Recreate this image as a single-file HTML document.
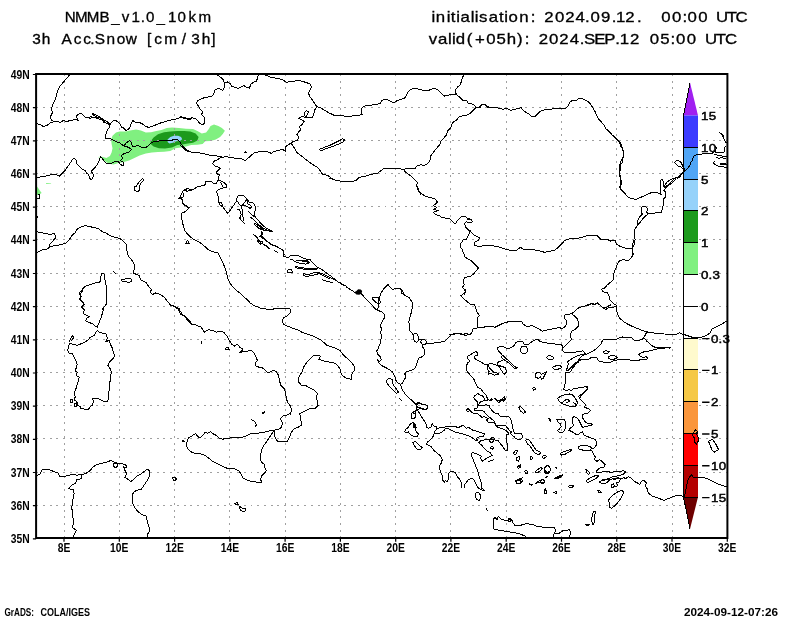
<!DOCTYPE html>
<html><head><meta charset="utf-8"><title>NMMB 3h Acc.Snow</title>
<style>html,body{margin:0;padding:0;background:#fff}body{width:800px;height:618px;overflow:hidden}svg{display:block;will-change:transform}text{font-family:"Liberation Sans",sans-serif;fill:#000}.t{font-size:14px;stroke:#000;stroke-width:.3px}.ax{font-size:12px;font-weight:bold}.cb{font-size:11.3px;stroke:#000;stroke-width:.45px}.ft{font-size:10.4px;font-weight:bold}.c{fill:none;stroke:#000;stroke-width:1;stroke-linejoin:round;stroke-linecap:round}.g{stroke:#a0a0a0;stroke-width:1;stroke-dasharray:2 4.7;fill:none}</style></head><body>
<svg width="800" height="618" viewBox="0 0 800 618">
<rect width="800" height="618" fill="#fff"/>
<defs><clipPath id="cp"><rect x="36.1" y="74.0" width="691.3" height="464.0"/></clipPath></defs>
<g clip-path="url(#cp)"><path d="M116,132.5 119.5,131.6 125.6,131.6 130,130.4 136.1,129.4 140.9,130.4 145.8,132.5 151,132.2 156.3,131.1 161.5,129.9 166.8,128.1 172,127.6 179,128.1 186,128.7 193,129 197.4,131.1 201.8,133.4 206.1,132.5 208.8,129 210.5,125.9 214,124.6 218.4,125.9 221.9,128.1 224.9,130.8 222.8,133.9 220.1,136.9 215.8,139.5 210.5,140.9 205.3,141.3 202.6,143.9 197.4,144.8 191.3,145.1 186,146.5 180.8,147.4 175.5,148.3 170.3,150.9 164.1,151.8 158,152.1 151.9,152.6 145.8,153.5 139.6,155.6 134.4,157.9 129.1,160.5 123.9,161.9 118.6,163.1 113.4,164.4 109,163.7 104.6,160.9 101.1,157.9 97.6,157 102,156.7 106.4,157.9 109.9,156.1 111.6,152.6 112.5,148.3 111.6,143.9 111.1,139.5 112.5,135.7z" fill="#80f080"/><path d="M150.7,141.3 153.6,137.4 158,134.3 164.1,132.2 170.3,131.6 177.3,131.1 184.3,131.1 190.4,131.6 195.6,133.4 198.6,136.9 197.4,140.4 193,142.7 187.8,143.4 182.5,144.4 177.3,145.1 172,147.4 165,148.6 158.9,148.3 153.6,146.5 150.7,143.9z" fill="#1c9a1c"/><path d="M167.6,139.5 170.3,136.9 173.8,135.7 178.1,135.7 181.1,136.9 182.2,139.2 179.9,140.9 176.4,141.3 172.9,142.7 169.4,143.4 167.6,142.1z" fill="#96d2fa"/><path d="M46.1,183.1 51.1,183.5 51.1,184.1 46.1,183.9z" fill="#80f080"/><path d="M36,185 41.6,193 38.4,195 36,195z" fill="#80f080"/><path d="M354.2,292.3 356.4,290.9 358.2,289.3 360.7,289.6 362.2,291.1 361.4,293.7 359.2,294.7 356.4,294.4z" fill="#000000"/></g>
<path class="g" shape-rendering="crispEdges" d="M64.0 74.0V538.0M119.3 74.0V538.0M174.6 74.0V538.0M229.9 74.0V538.0M285.1 74.0V538.0M340.4 74.0V538.0M395.7 74.0V538.0M450.9 74.0V538.0M506.2 74.0V538.0M561.5 74.0V538.0M616.8 74.0V538.0M672.0 74.0V538.0M36.1 505.2H727.4M36.1 472.0H727.4M36.1 438.9H727.4M36.1 405.7H727.4M36.1 372.5H727.4M36.1 339.4H727.4M36.1 306.2H727.4M36.1 273.0H727.4M36.1 239.9H727.4M36.1 206.7H727.4M36.1 173.5H727.4M36.1 140.3H727.4M36.1 107.2H727.4"/>
<polygon points="683.5,115.5 690,82.6 698.0,115.5" fill="#a020f0"/>
<rect x="683.5" y="115.5" width="14.5" height="31.8" fill="#3c3cff"/>
<rect x="683.5" y="147.3" width="14.5" height="31.8" fill="#50a5f5"/>
<rect x="683.5" y="179.1" width="14.5" height="31.8" fill="#96d2fa"/>
<rect x="683.5" y="210.9" width="14.5" height="31.8" fill="#1c9a1c"/>
<rect x="683.5" y="242.7" width="14.5" height="31.8" fill="#80f080"/>
<rect x="683.5" y="274.5" width="14.5" height="31.8" fill="#ffffff"/>
<rect x="683.5" y="306.3" width="14.5" height="31.8" fill="#ffffff"/>
<rect x="683.5" y="338.1" width="14.5" height="31.8" fill="#fffacd"/>
<rect x="683.5" y="369.9" width="14.5" height="31.8" fill="#f5c846"/>
<rect x="683.5" y="401.7" width="14.5" height="31.8" fill="#fa963c"/>
<rect x="683.5" y="433.5" width="14.5" height="31.8" fill="#ff0000"/>
<rect x="683.5" y="465.3" width="14.5" height="31.8" fill="#b40000"/>
<polygon points="683.5,497.1 690,529 698.0,497.1" fill="#6e0000"/>
<path d="M690 82.6L683.5 115.5V497.1L690 529M683.5 147.3H698.0M683.5 179.1H698.0M683.5 210.9H698.0M683.5 242.7H698.0M683.5 274.5H698.0M683.5 306.3H698.0M683.5 338.1H698.0M683.5 369.9H698.0M683.5 401.7H698.0M683.5 433.5H698.0M683.5 465.3H698.0M683.5 497.1H698.0" stroke="#000" stroke-width="1" fill="none" shape-rendering="crispEdges"/>
<text class="cb" transform="translate(0,120.0) scale(1.18,1)" text-anchor="middle" x="597.2 603.7">15</text>
<text class="cb" transform="translate(0,151.8) scale(1.18,1)" text-anchor="middle" x="597.2 603.7">10</text>
<text class="cb" transform="translate(0,183.6) scale(1.18,1)" text-anchor="middle" x="597.2">5</text>
<text class="cb" transform="translate(0,215.4) scale(1.18,1)" text-anchor="middle" x="597.2">2</text>
<text class="cb" transform="translate(0,247.2) scale(1.18,1)" text-anchor="middle" x="597.2">1</text>
<text class="cb" transform="translate(0,279.0) scale(1.18,1)" text-anchor="middle" x="597.2 602.1 606.9">0.3</text>
<text class="cb" transform="translate(0,310.8) scale(1.18,1)" text-anchor="middle" x="597.2">0</text>
<text class="cb" transform="translate(0,342.6) scale(1.18,1)" text-anchor="middle" x="605.6 610.5 615.4">0.3</text>
<text class="cb" transform="translate(0,374.4) scale(1.18,1)" text-anchor="middle" x="605.6">1</text>
<text class="cb" transform="translate(0,406.2) scale(1.18,1)" text-anchor="middle" x="605.6">2</text>
<text class="cb" transform="translate(0,438.0) scale(1.18,1)" text-anchor="middle" x="605.6">5</text>
<text class="cb" transform="translate(0,469.8) scale(1.18,1)" text-anchor="middle" x="605.6 612.2">10</text>
<text class="cb" transform="translate(0,501.6) scale(1.18,1)" text-anchor="middle" x="605.6 612.2">15</text>
<path d="M702.1 338.6h7.4M702.1 370.4h7.4M702.1 402.2h7.4M702.1 434.0h7.4M702.1 465.8h7.4M702.1 497.6h7.4" stroke="#000" stroke-width="1.4" fill="none"/>
<g clip-path="url(#cp)"><path class="c" shape-rendering="crispEdges" d="M70.2,74 67.8,77 65.1,80 62.1,83.7 59.7,86.1 58.1,89.7 56.9,93.7 56.1,97.1 54.1,101.7 52.1,106.1 51.7,109.8 52.5,112.6 50.9,115.8 50.1,118.2 51.7,120.2 53.7,121.8M36,123.2 40,124.6 43.1,126.4 47.1,125.4 50.1,122.8 53.7,121.8 57.1,121.2 60.1,122.4 63.1,120.6 67.1,121.4 71.2,120.2 75.2,119.8 78.2,120.2 77,117.8 76.6,115.8 78.6,114 81.4,113.6 83.4,115.6 85.8,117.8 88.2,117.4 90.2,118.4 93.3,117.2 96.3,118.2 99.3,119 102.3,120.2 105.3,122.6 108.3,124.2 110.7,123.4M91.8,113 94.7,114.2 98.3,116.2 102.3,118.8 106.3,121.4 109.9,123.4M92.7,114.6 96.3,116.6 100.3,118.2 103.9,120.6M90.2,116.6 93.9,117.4 97.9,117.8M103.9,122.6 107.3,123.4 109.9,124.6M110.7,123.4 112.7,121.4 114.7,120.2 117.3,121.4 120,124.2 121.6,127 124,128.2 126,130.6 128.4,129.4 130.4,126.6 131.2,123 132.8,120.6 135.6,122.2 139.4,122.6 142.4,123.8 145.3,126.2 148.5,127.4 151.5,126.4 154.5,125.4 158.5,123.8 161.5,122.6 164.9,121.8 168.6,120.6 171.6,119.8 175,119.4 178.6,118.2 181,116.6 183.4,117.6 186.6,118.2 190.6,119.4M110.3,123.8 109.5,127 107.5,129.8 106.1,133.9 105.3,138.3 110.3,138.7M110.3,138.7 113.3,140.3 116.3,141.9 119.4,142.7 121.6,144.5 124.4,145.5 126.4,142.7 129.4,140.7 131.4,142.3 132.2,145.9 134.4,146.9 137.4,145.3 140,146.3 142.4,147.9 145.5,147.5 148.5,145.9 150.5,143.3 153.5,141.9 157.5,141.3 161.5,140.7 165.5,140.3 169.6,140.3 173.6,139.9 177.6,139.3 179.6,141.5 181.6,144.7 184.6,148.3 187.6,150.7 190.6,151.5M121.6,144.5 124.8,146.1 128.4,147.3 131.4,149.3 129.6,151.9 124.8,153.3 121.4,155.3 122.4,158.4 120.4,160.4 123.4,162.4 123,166 120.4,164.4 118.4,161.6 114.3,162 110.7,163.4 107.3,164 104.3,161.4 102.3,158.4 100.3,156.7 99.5,160.4 97.5,164.4 94.3,168.4 91.2,171.4 93.3,174.4 92.9,178.4 90.4,179.6 89.2,176.4 88.2,174 86.2,172.8 85.2,170.4 82.2,169.4 79.2,166.4 76.8,164 76,159.6 73.4,158.4 71.2,161.4 69.2,164.4 67.1,167.4 65.1,170.4 62.1,173.4 59.3,176.2 56.1,174.4 52.1,174.4 48.1,175.4 44.1,176.4 40,177 36,177.6M142.4,178.4 143.7,180 140.8,183.3 139.4,186.5 140,190.1 137.4,191.7 134.6,190.1 134,187.1 136.4,186.1 138.4,182.9 141.4,179.4zM180,117.2 184,118.2 188,119.4 192,117.8 196.1,118.8 198.1,121.4 200.1,123.8 203.7,124.6 204.7,121.2 204.1,117.4 201.7,114.6 202.5,111.8 200.1,109.2 198.5,106.1 196.1,103.1 198.1,100.5 202.1,98.3 207.1,97.3 212.1,96.1 214.5,92.5 215.1,89.3 219.2,88.5 222.6,90.3 224.6,87.1 224.6,83.1 223.2,79.6 220.2,77 215.7,74M224.6,83.1 227.4,82 230.2,83.7 231.6,86.5 234.6,87.1 238.6,88.5 241.4,86.5 243.9,85.7 246.7,87.3 249.5,88.1 250.7,84.5 253.3,82.2 256.5,81 257.5,78 258.3,74.8 262.3,74.4 266.3,75.2 271.4,77.6 276.4,78.2 282.4,79.6 286.4,82.2 292.4,81.6 298.5,80.4 304.5,82 309.7,83.7 311.5,87.1 310.1,90.1 308.5,93.3 310.1,97.1 312.5,100.1 314.5,103.3 316.7,106.5M316.7,106.5 320.6,107.8 324.6,110.2 329.6,113.2 334.6,116 340.6,115.2M316.7,106.5 314.7,110.2 313.7,114.2 312.5,117.4 308.5,117.8 305.7,117.4 301.5,116.6 298.5,118.2 301.5,119.8 304.1,121.4 302.5,124.2 299.5,126.6 300.5,129.8 298.5,132.2 296.9,134.7 298.9,137.3 297.5,140.3 293.5,141.3 290.8,143.3 288.4,144.7 285.4,146.7M305.7,117.4 304.1,113.4 306.1,110.8 308.5,111.2 307.7,113.8 305.7,117.4M285.4,146.7 285.8,151.3 282.4,149.3 278.4,150.3 274.4,151.3 271.4,153.3 267.3,151.9 262.3,151.3 258.3,151.9 254.3,152.7 251.3,155.3 248.3,158 245.5,160.6 242.2,159 238.2,158.4 234.2,158 230.2,157.3 226.2,156.7 222.2,157.3 218.2,156.3 214.1,155.5 210.1,155.3 206.1,154.3 202.1,153.3 198.1,152.7 194.1,152.3 190,151.9 186,150.7 183,148.3 181,145.9 180,144.7M244.3,152.7 245.7,151.9 246.9,152.7M288.4,144.7 290.8,143.5 292.9,145.5 294.5,148.3 296.5,152.3 300.5,155.3 304.5,158.4 308.5,161.4 312.5,164.4 317.6,167.4 320.6,171.4 322.6,174.4 327.6,175.4 331.6,178.4 335.6,180.4 340.6,180M319.6,149.3 324.6,147.3 330.6,145.1 336.6,142.3 340.6,140.1M320.6,150.9 325.6,148.9 331.6,146.9 337.6,144.5 340.6,143.1M319.6,149.3 320.6,150.9M330,113.2 334,115.2 339,115.8 344.1,116 349.1,116.4 354.1,115.8 359.1,115.2 362.1,114.2 361.1,111.2 361.7,108.2 364.1,106.1 369.2,105.7 374.2,104.5 380.2,103.7 381.8,100.5 384.6,99.5 388.2,100.1 391.2,101.7 393.9,103.1 397.3,100.5 401.3,99.1 404.7,98.1 406.3,95.1 408.7,91.1 411.3,89.1 416.3,88.5 420.4,89.7 424.4,90.5 429.4,90.1 432.4,88.7 435.4,88.5 438.4,90.1 441.4,93.7 444.5,96.1 448.5,95.1 452.5,94.5 456.1,94.1M456.1,94.1 455.5,90.1 457.5,87.1 460.1,85.1 461.5,81 462.5,77.6 464.1,74M456.1,94.1 459.5,97.1 462.5,100.1 466.5,100.5 468.6,103.7 472.6,104.1 475,105.7 475,108.2 477.6,107.8 480.6,106.5 482.6,104.1 485.6,105.1 487.6,107.1 490.6,107.8M475,108.2 472.6,111.2 469.6,113.8 466.5,115.2 462.5,115.8 458.5,117.2 456.5,120.2 453.5,121.8 451.5,125.2 450.5,128.2 447.5,131.2 446.1,135.3 443.5,138.3 441.4,140.3 440,144.3 437.4,147.3 434.8,150.3 432.8,153.3 430.4,156.3 430,160 428,163.4 424.4,165.4 421.4,164.8 417.3,165.4 415.3,168.4 411.3,168.8 407.3,168.4 403.3,169.4M403.3,169.4 399.3,168.8 394.3,168.4 390.2,168.8 386.2,168 383.2,168.8 380.2,171.4 377.2,173.4 373.2,174 370.2,174.4 366.1,176 362.1,176.8 359.1,177.4 356.1,180.4 352.1,181.4 348.1,181.6 343.1,181.6 339,180.8 335,180 330,178.4M403.3,169.4 405.9,172.4 409.3,174.8 412.3,177.4 415.3,180 417.3,182.4 416.7,186.5 418.4,190.5 420.8,194.1M330,147.5 334,145.9 339,143.9 343.1,141.9 344.5,139.9 342.4,138.7 339,140.7 334,143.3 330,145.3M480,107.8 481.6,104.1 484.4,104.1 487,106.1 490,107.8 494.1,107.1 499.1,108.2 503.1,109.2 507.1,108.2 510.1,110.2 514.1,109.8 518.2,108.2 521.2,107.8 523.2,110.2 526.2,112.6 529.8,114.6 531.8,116.6 535.2,116.2 537.8,113.8 540.2,111.2 544.3,109.8 549.3,109.2 555.3,108.8 561.3,108.2 565.9,108.2 568.4,105.7 570,102.1 572.4,100.5 576.4,100.5 578.4,98.5 581.4,98.5 584.4,99.7 587.4,101.1 590.4,104.1 592.4,107.1 594.9,111.2 596.5,115.2 598.5,119.2 601.5,122.2 604.1,125.2 606.1,129.2 609.5,131.2 611.5,134.3 614.5,137.9 617.6,139.9 619.6,142.3 620.6,145.9 622.6,149.3 623.6,153.3 623,158.4 622.6,162.4 620.6,164.8 620.2,169.4 619.6,173.4 620.6,178.4 621.6,183.5 619.6,186.5 620.6,189.5 623,191.5 625,193.5M607,130 611,134 616.1,138 620.1,142 622.1,147.1 623.7,152.1 623.1,157.1 621.1,161.1 619.7,165.1 619.1,170.2 619.7,175.2 620.5,180.2 621.1,184.2 619.7,187.2 622.1,190.2 625.1,194.3 628.1,197.3 632.1,198.7 636.1,199.5 640.2,197.5 643.2,196.3 647.2,194.3 651.2,192.7 655.2,192.2 659.2,193.3 661.2,194.7M661.2,194.7 660.2,190.2 660.6,184.6 660.2,180.6 662.2,179.2 663.9,182.6 663.5,186.2 665.1,187.4M665.1,187.4 668.3,184.6 671.5,181.8 674.7,178.2 675.9,179.4 672.7,182.2 669.3,185 666.3,187.8 663.9,190.2 665.5,191.8 665.9,196.3 663.5,199.3 663.9,203.3 662.7,207.3 661.4,212.3 657.2,212.7 652.6,213.3 648.2,213.9M674.7,178.2 678.7,177 681.1,174.6 683.1,171.8M641.2,207.3 645.2,206.3 647.8,208.7 646.6,211.9 648.2,213.9 645.2,216.3 642.2,219.4 639.4,223.4 637.1,224.4 637.8,220.4 639.8,216.7 642.2,214.3 641.2,210.3zM648.2,213.9 645.2,216.3 642.2,219.4 639.4,223.4 636.5,226.8 634.5,229.8 634.5,234.4 635.1,239.4 634.1,244.5 632.3,248.5 632.1,254.5M600,239.4 604,240 608,239.4 611,240.8 615.1,240.4 616.5,244.1 620.1,246.5 625.1,248.1 630.1,248.5 632.3,248.5M664,186.2 667,182.2 670,180 673.1,178.7 675.6,177.7 677.6,178.2 679.6,177.2 681.1,174.7 683.1,172.7 685.1,170.7 686.9,169 688.6,167 690.1,164.7 691.1,162.1 692.6,160.1 693.1,157.1 694.6,155.3 697.1,154.6 700.2,154.1 704.2,153.9 708.2,153.7 711.2,153.6 713.2,152.6 714.7,151.3M685.1,170.7 684.1,168.2 682.6,165.7 681.6,163.7 680.6,161.6 678.6,160.9 676.6,160.3 674.6,162.7 676.1,164.4 678.1,166 680.1,166.4 681.6,167.2 683.6,169.7M719.2,132.2 721.2,134 722.8,136 723.8,138.6 724.8,140.6 726.1,142.6M721.7,133.5 723.3,135 723.5,137.6M714.7,151.3 715.8,150.1 716.2,147.7 715,145.9M714.7,151.3 716.2,152.6 718.2,152.1 720.2,152.3 722.8,152.6 724.3,151.6 724.8,149.6 724.3,147.6 726.1,146.1M714.7,154.1 717.2,155.1 720.2,155.6 723.3,156.3 726.1,156.6M716.7,157.1 718.2,158.1 721.2,157.9 724.3,158.1 726.1,158.1M714.2,161.6 713.7,163.2 715.2,164.7 717.7,166 720.7,166.4 723.8,167 726.1,167.7M720.2,163.2 722.8,163 726.1,163M720.2,164.4 723.3,164.7 726.1,164.7M38,194.2 40,195 39.2,198.7 36.4,199.1M36.8,215.1 37.6,217.1M36,231.6 40,232.4 45.1,233.6 50.1,234.4 54.5,233.4 55.7,237.6 53.1,240.8 50.1,243.6 49.7,246.2 52.1,247.2M36,254.3 39,251.3 43.1,249.7 47.1,248.9 50.1,246.8 54.1,245.6 58.1,245.2 62.1,244.4 66.1,243.2 69.2,239.6 72.2,235.2 75.2,232.8 77.2,229.2 80.2,227.2 85.2,225.6 90.2,226.8 95.3,227.6 99.3,229.2 102.3,231.6 106.3,233.2 110.3,235.6 114.3,237.2 119.4,238.2 123.4,241.2 126,244.2 126.8,249.3 127.4,254.3 129.4,257.3 132.4,260.9 134,264.3 134.4,268.3 133.4,273 136.4,274.4 139.4,275.4 140.4,279.4 143.5,281.4 146.5,283 148.5,286.4 151.5,289.4 150.1,292.4 152.5,294.6 155.5,293 160.5,294.4 164.5,297.4 167.6,301.5 170.6,305.1 174.6,306.5 179.6,309.1M121.4,279.8 125.4,279 129.4,278.2 131.6,279.4 131.4,281.8 128.4,282.4 124.4,281.4 121.6,281zM113.9,271.7 115.1,273.4M101.3,274.4 102.7,273 104.7,274.4 104.7,279.4 105.9,283.4 106.3,288.4 106.7,294.4 106.7,300.5 105.9,304.5 102.7,309.1M101.3,274.4 100.7,278.4 100.7,281.8 97.3,282.4 93.3,283.4 89.2,285 85.2,286.4 82.6,289 81.8,292.4 79.2,294.4 81.2,296.4 79.2,299.5 81.8,301.5 83.8,303.9 81.8,306.5 83.4,309.1M179,198.1 182,199.7 182.4,203.1 185.1,205.7 189.1,207.8 187.1,210.2 184.1,212.2 182,213.2 181.6,217.2 182.4,222.2 183.7,227.2 185.1,231.2 188.1,234.7 191.7,237.9 195.1,240.3 199.1,241.9 202.1,244.3 205.7,247.3 209.2,250.3 212.6,251.9 217.8,252.3 219.2,255.3 221.2,259.4 223.2,263.4 225.2,268.4 226.6,273.4 227.8,278.4 229.8,282.9 232.7,286.9 235.9,290.1 240.3,293.3M219.2,202.1 221.8,203.7 223.2,207.1 225.2,210.2 227.8,213.6M185.7,243.3 187.7,240.3 189.1,243.5zM287.7,270 291.9,269.8 292.1,272.6 287.7,272.8zM227,214.1 229,212.1 230.5,209.6 232,207.6 233.5,205.6 235,203.1 236.5,201.1 236.8,198.1 238.1,195.8 240.1,195.2 242.6,195.5 244.6,196.5 246.1,198.1 247.6,200.1 249.1,202.1 251.6,202.6 253.6,203.3 254.9,205.6 255.6,208.6 254.9,211.6 254.6,214.6 255.1,216.9M237.6,201.6 239.1,204.1 241.1,206.1 242.9,204.6 244.6,202.6 245.9,200.1 246.6,198.1M241.6,206.1 244.1,205.6 246.6,206.1 248.6,207.6 250.6,208.6 251.3,206.6 250.1,205.1 248.3,204.6 246.6,200.1M237.6,209.6 239.6,209.1 240.1,211.6 241.1,214.1 240.9,216.6 239.6,217.6 240.6,219.6 242.1,221.1 244.6,223.4M241.1,206.6 242.1,209.1 242.6,212.1 242.9,215.1 243.1,218.1 243.7,220.3M248.6,211.6 250.1,213.1 251.9,214.9 253.6,216.1 255.1,216.9M250.6,217.1 254.1,220.1 257.1,223.2 260.1,225.7 263.2,228.2 266.2,229.7 269.2,230.7 272.7,231.7M255.1,216.9 258.1,220.1 261.1,223.7 264.2,226.7 267.2,228.7 270.2,230.2 272.7,231.4M255.1,223.2 257.1,224.7 259.6,226.7 261.6,228.7 260.1,229.2 257.6,227.2 255.1,225.2 254.6,223.7zM259.1,225.2 261.3,227 263.6,229.2 262.3,229.8 260.1,228M261.6,231.7 262.7,233.7 261.1,235.2 259.6,236.2 261.6,237.7 264.2,239.2 266.2,240.7 268.2,242.2 269.7,243.7 272.2,245 275.2,245.7 277.4,246.8M253.1,234.2 255.1,235.7 257.1,237.7 258.6,239.7 259.6,241.7 261.1,243.2 260.1,244.2 258.6,242.7 257.6,240.7M263.2,244.2 265.2,245.2 267.2,246.4M262,233 261,235.5 263.5,238 266,240 269,242.6 272,244.6 275.1,246.1 278.1,247.6 281.1,249.1 283.6,250.6 283.1,252.6 284.1,254.6 283.6,256.3 286.1,257.1 289.1,257.1 290.1,255.6 293.1,255.3 296.1,255.3 298.7,255.9 301.2,257.3 304.2,258.6 307.2,259.3 309.7,259.3 311.7,261.6 314.2,264.1 316.7,266.6 319.2,268.2 322.2,269.7 324.8,271.7 327.3,273.7 330.3,275.7 332.8,277.7 335.3,279.7 338.3,282.2 340.3,282.4M263,231 267,230.5 270,231.2 272.6,231.5M261,241 262.5,242 262,243.6 260.5,243.1zM263.5,244.6 266,246.1 268,247.6 269.5,248.6M274.1,250.6 276.1,251.6 277.9,252.3M290.1,260.1 292.1,259.3 293.6,260.6 295.6,261.9 298.7,262.9 302.2,263.6 305.7,264.1 308.2,263.6 309.2,262.6 307.2,261.9 304.2,261.3 301.2,260.9 298.2,260.3 296.6,260.3M296.6,260.3 300.2,260 304.2,260 307.2,260.5 309.2,262.6M295.1,266.6 298.2,267.1 301.2,267.7 304.2,268 307.2,268.2 310.2,268.7 314.2,268.7 317.7,268 316.2,269.4 312.2,269.7 308.2,269.4 304.2,269.2 300.2,268.7 296.6,268zM303.2,273.7 305.7,274.2 308.7,274.4 311.2,273.7 313.7,272.7 316.7,272.2 319.2,272.7 317.2,274.2 314.2,275 311.2,275.4 308.2,276.4 305.7,276.2 303.7,275.2zM314.2,273 318.2,272.7 321.2,273.4 324.3,274.7 327.3,276.2 330.3,277.7 333.3,279.2 335.8,279.4M320.2,274.2 323.3,275.7 326.3,277.2 329.3,278.4M322.2,279.7 325.3,280.7 328.3,281.7 330.8,282.2 332.8,282.4M244.3,153 246.8,152.2M221.7,156.5 219.2,158.6 216.7,160.1 214.2,161.1 212.7,163.6 214.2,165.6 217.2,166.6 220.2,168.3 218.2,170.1 216.4,171.9 217.2,174.1 219.4,174.6 218.7,177.1 218.2,180.1 217.2,181.1M217.2,181.1 216.7,183.2 214.7,183.7 213.2,183 211.2,181.6 208.2,181.1 205.1,181.9 205.6,184.7 203.1,185.4 200.1,186.2 197.1,187 194.6,188.7 192.1,189.7 189.6,189.2 187.6,188.4 185.1,189.7 182.6,191.2 181.5,194.2 180.5,196.7 178.5,198.7 181,197.2 182.6,199.7 183.1,203.2 185.1,205.2 187.6,206.7M185.1,189.7 186.6,191.2 189.1,190.7 191.1,190.2M183.1,193.2 183.6,195.2 182.9,197.2M217.2,181.1 219.7,180.6 222.2,181.6 224.7,183.2 226.7,185.2 226.2,187.2 223.7,187.7 222.2,185.7 221.7,183.7 220.2,182.1M223.7,187.7 221.2,188.7 218.7,189.2 216.7,191.2 217.2,194.2 218.7,197.2 218.7,202.2 221.7,202.7 219.2,202.7 220.2,205.2 222.7,206.7M417.4,186.1 418.4,190.1 421.4,193.7 425.5,196.1 430.5,197.7 435.5,199.1 437.5,202.1 433.5,205.7 436.9,207.3 433.7,209.4 438.5,210.6 433.5,212.2 435.5,214.6 439.5,215.8 442.5,217.8 446.5,218.2 450.6,219.2 453,222.2 455,224.2 457.6,220.2 460.6,217.2 464.6,216.2 467.6,218.2 470.6,219.4M380.3,294.1 383.3,289.5 386.3,286.1 387.9,284.5 390.3,287.5 392.3,289.5 396.3,288.5 399.4,288.1 402.4,290.5 403.6,294.1M467.7,219.2 471.1,219.8 472.5,221.8 469.1,222.6 466.1,221.8 464.5,223.8 465.7,227.2 468.1,229.8 470.1,230.8 473.1,234.3 477.1,236.7 479.7,237.9 478.1,240.3 475.1,241.9 474.5,245.3 478.1,246.3 483.1,245.9 488.2,245.3 493.2,245.9 498.2,246.7 503.2,248.3 508.2,249.9 512.2,250.7 516.3,250.3 520.3,247.3 523.3,249.3 528.3,249.3 534.3,249.9 539.4,250.7 544.4,252.3 549.4,251.3 554.4,250.3 558.4,247.3 561.4,244.3 564.5,240.7 569.5,238.7 574.5,238.3 580.5,237.9 586.5,235.9 592.6,235.3 596.6,235.3 599.6,238.3 602.6,239.9 606.6,239.3 610.6,241.3M470.1,230.8 468.5,235.3 466.5,239.3 463.1,239.9 461,243.3 460,246.3 462,249.3 463.7,253.3 465.1,257.3 469.1,259.4 472.1,261.4 475.1,264.4 478.5,268 475.7,271.4 473.1,274.4 470.1,276.4 465.1,277.4 463.1,280.4 464.1,284.5 462.4,287.5 465.7,290.1 464.5,294.1M634.2,240 632.6,244 632.2,248.4 633.2,254.1 631.2,258.1 628.2,260.5 623.2,259.7 619.2,261.1 617.1,265.1 615.1,270.1 613.1,275.1 613.1,280.2 610.1,282.6 607.1,285.2 605.1,287.8 601.7,289.2 603.1,291.8 607.1,292.6 609.1,296.2 610.1,300.2 613.1,303.3 617.1,305.9M580,307.3 584,306.3 588,305.3 591,303.9 595.1,304.3 597.1,302.7 600.1,305.3 603.1,308.3 606.1,309.3 609.1,307.3 613.1,307.3 617.1,305.9M617.1,305.9 616.1,309.9 617.8,314.3 619.8,318.3 623.2,321.3 627.2,323.9 632.2,326.3 637.2,328.4 642.2,330.4 647.3,332 652.3,332.8 658.3,333.4 664.3,334 670.4,334.4 676.4,334.4 679.4,332.8 682.4,334 688.4,336 694.5,338 700.5,337.4 706.5,335.4 710.5,332.4 711.5,329.4 716.5,326.7 721.6,324.3 726.6,321.1M106.7,290 106.7,296 106.3,304.1 103.9,307.1 102.7,312.1 101.3,317.1 99.3,322.1 97.3,327.1M82.6,290 79.2,293 81.2,296 79.8,299.6 82.6,301.6 84.2,304.5 81.8,307.7 84.6,309.7 83.2,313.7 86.2,315.1 89.2,316.5 86.2,318.5 85.8,321.1 89.2,322.5 93.3,324.1 95.3,326.1 97.3,327.1M97.3,330.2 99.3,332.6 103.3,333.2 106.3,334.2 107.3,338.2 105.9,341.8 109.3,340.2 110.3,344.2 112.3,348.2 113.3,352.2 114.7,356.3 112.3,359.3 109.3,362.3 107.9,365.3 109.9,368.3 111.3,371.3 110.7,376.3 109.9,382.4 109.3,388.4 108.7,394.4 107.9,401.4 103.3,401.4 100.3,399.4 96.3,398.4 92.7,398 93.3,401.4 92.7,404.9 90.2,406.9 88.2,409.5 83.2,408.9 80.6,408.9 80.2,406.5 77.8,405.5 77.2,402 74.6,400 75.2,396.4 74.2,392.4 75.8,389.4 76.6,386 77.8,382.4 79.2,377.3 76.6,375.9 77.2,372.3 75.2,371.3 76.2,367.9 77.2,364.3 75.8,360.7 74.2,357.3 72.6,353.9 69.2,353.3 67.8,350.2 68.6,346.2 69.8,343.2 73.2,344.6 77.2,345.2 81.2,343.8 84.6,342.2 88.2,339.8 90.2,337.2 93.9,335.8zM69.2,341.2 71.2,337.8 72.6,335.8 73.8,337.8 71.2,340.6M70.2,400 72.2,399.4 72.6,402 70.6,402.4zM74.6,403.5 76.6,402.9 76.6,406.5 74.6,406.5zM177.6,308.1 180.6,311.7 182.6,314.5 186.2,317.1 190.6,321.3M170,305.1 174,306.1 178,309.1 181,314.5 184.1,316.1 187.7,320.1 191.7,324.1 196.1,325.1 201.1,327.1 204.5,332.2 208.2,329.8 212.2,330.2 216.2,332.2 221.2,331.2 224.2,332.6 227.2,336.6 229.2,340.2 231.8,344.2 234.3,346.2 237.3,344.2 239.9,347.2 242.3,348.6 241.9,351.2 239.3,352.7 243.3,351.8 247.3,351.2 251.3,350.2 254.3,353.3 256.3,357.3 257.3,360.3 255.3,363.3 255.3,365.9 259.4,367.3 262.4,367.9 265.4,370.3 267.4,372.3 270.4,371.9 273.4,370.3 276.4,371.9 278.4,375.3 279.4,380.4 280.8,385.4 284.1,388.4 285.5,392.4 286.5,398.4 287.5,402.4 290.5,406.1 291.5,409.5 290.5,414.1M201.1,341.2 201.5,343.8M225.2,348.2 228.2,347.2 229.2,349.2 226.2,349.8zM262.4,412.9 264.4,411.5M240.3,293.2 243.3,296.4 247.3,299.6 250.3,303.1 254.3,305.7 260.4,308.1 266.4,309.1 272.4,309.1 279.4,308.5 286.5,308.1 290.1,309.1 290.5,312.5 287.5,315.7 283.5,318.1 282,321.1 283.5,324.1 287.5,326.1 292.5,328.2 298.5,330.2 302.5,332.6 308.6,334.6 314.6,336.6 319.6,339.2 323.6,342.2 326.6,345.2 330.6,346.4M330.6,362.3 325.6,361.3 321.6,360.3 318.6,359.3 320.6,356.3 317.6,355.3 313.6,355.3 310.6,358.3 307.6,361.3 305.5,364.3 303.5,367.3 302.5,371.3 300.5,374.3 298.5,378.4 298.9,382.4 301.5,385.4 306.5,386 310.6,388.4 314.6,390.4 317.6,393.4 316.2,396.4 317,400.4 318.2,405.5 315.6,408.1 310.6,408.5 306.5,410.1 302.5,412.1 299.5,414.1M361.2,293.6 364.2,297 367.2,300 370.2,303.1 373.3,306.5 375.9,309.7 378.3,310.5 381.3,311.7 384.3,314.1 384.7,317.7 382.7,320.5 381.3,323.1 379.9,326.1 381.9,328.6 380.7,332.2 381.3,336.2 380.7,341.2 379.9,344.2 378.3,348.2 376.7,351.2 377.9,354.3 380.3,356.7 381.3,359.9 379.3,361.3 377.3,359.3 379.3,363.3 382.3,365.9 386.3,367.9 389.9,369.9 392.7,372.3 394.7,375.9 395.9,380.4 398.4,383.4 400.8,384.4M372.2,298 376.3,297 379.3,299 380.7,302.4 378.3,304.1 375.3,302 373.3,300zM379.3,299 380.3,295M401.4,290 402,293.6 405.4,295.6 409.4,298 412,302 412.4,307.1 411.4,312.1 410,317.1 408.8,322.1 410,326.1 409.4,330.2 412,333.2 413.4,336.2M413.4,336.2 414,333.8 416.4,333.2 418,336.2 418.4,340.2 416.8,342.2 414.4,341.8 413.4,338.2zM418.4,340.2 421.4,339.2 424.5,339.2 426.5,341.8 425.5,344.6 422.4,344.6 420.8,342.2 421.4,339.2M425.5,343.8 430.5,343.8 435.5,342.6 440.5,342.2 444.9,341.2 447.6,338.2 450.6,335.2 454.6,334.2 458.6,333.2 462.6,334.2 466.6,333.8 470.6,334.6M422.4,344.6 422.9,347.2 424.9,350.2 424.5,354.3 421.4,357.3 418.4,358.3 417.4,362.3 416,366.3 414,369.3 410.4,370.7 406.8,371.3 404.8,373.9 406,377.3 404,380 402.8,382.8 400.8,384.4M400.8,384.4 401.4,388.4 403.4,391.4 405.4,394.4 408.4,397.4 411.4,400 414,402.4 416.4,404.9 417.4,407.5 416,410.5 412.8,412.1 414.8,414.1M386.3,380.4 388.7,378.4 392.3,379.4 392.7,383.4 394.3,386.4 396.7,389.4 398.4,392 396.7,393.4 394.3,391.4 391.3,388.4 388.7,385.4 386.7,382.8zM399.4,398.4 401.4,400.4M416.4,404.9 419.4,402.9 422,404.9 425.5,404.5 427.5,406.5 426.5,408.9 423.5,409.5 420.4,408.1 418.4,409.5M330.7,346.4 335.1,348.2 340.1,350.6 343.1,354.7 347.1,358.3 351.2,361.9 354.2,366.3 354.6,370.3 352.2,373.3 351.2,379.4 347.1,378.4 343.1,376.3 341.1,373.3 340.1,369.3 338.1,365.9 335.1,363.3 330.7,362.3M464.5,290 465.7,292.4 461,295.6 463.1,298.4 467.1,301.6 470.1,304.1 474.5,304.5 475.7,308.1 477.1,312.1 479.7,315.7 477.7,317.1 477.7,322.1 477.7,327.8M450,334.6 454,333.8 458,333.2 461,334.6 465.1,335.2 470.1,334.6 472.1,332.2 472.5,329.2 477.7,327.8M477.7,327.8 482.1,327.8 486.1,326.5 490.2,326.5 495.2,327.1 499.2,325.1 503.2,323.1 507.2,322.1 510.2,321.1 514.3,321.7 518.3,321.1 521.3,321.1 523.3,324.1 526.3,326.5 529.3,326.1 532.3,325.7 536.3,327.8 539.4,329.2 542.4,331.2 546.4,330.2 550.4,329.2 554.4,328.6 558.4,327.8 562.4,328.2 565.5,326.5 566.5,323.1 566.1,320.1 564.1,317.7 564.9,315.1 568.5,314.5 571.5,313.7M571.5,313.7 574.5,311.7 577.5,308.5 580.5,307.1 584.5,306.1 588.6,304.5 591.6,303.7 594.6,304.1 597.6,303.1 600.6,305.7 603.6,308.1 606.6,307.1 610.6,304.9M571.5,313.7 574.5,316.1 577.5,319.1 578.5,323.1 578.1,326.5 575.5,329.2 571.5,331.2 570.5,335.2M534.7,340 538,339.2 539.4,341.2 543.4,342.6 548.4,343.2 553.4,343.8 558.4,344.6 562,345M586.5,386.4 587.6,389.4 584.5,392.8 581.5,395.4 579.5,398.4 582.5,401.4 585.5,404.5 584.5,407.5 588.6,408.5 590.6,410.5 587.6,413.3M546.4,357.3 549.4,355.3 552.8,356.7 553.4,358.7 550.4,359.9 547.4,358.7zM552.4,367.3 556.4,365.9 560.4,365.9 561.4,367.9 558.4,369.3 554.4,369.3zM535.3,373.3 539.4,372.3 541.4,374.3 544.4,372.7 546.8,371.9 544.4,375.3 543.4,378.4 541.4,379.4 540.4,376.7 538.4,378.4 535.9,377.3zM532.7,388 534.7,387.4 535.3,389.4 533.3,390.4zM557.4,398.4 560.4,396.4 564.5,394.8 569.5,394 572.5,394.8 575.5,398.4 577.5,402.4 576.5,405.5 573.5,406.9 569.5,406.1 565.5,404.9 562,403.5 559.4,401.4zM562.4,402.4 565.5,400 568.5,399.4 569.5,401.4 566.5,402.9M573.5,402.4 575.5,404.1M692.8,433.4 695.4,430 697.4,431.4 696.4,434.4 698.4,437.4 698.8,440.4 696.4,444.1 694,441.4 694.4,438 692.8,435.4zM708.5,441.4 712.5,439.4 715.5,443.5 718.5,449.5 714.5,452.1 712.1,450.5 710.5,446.1zM415.8,404.8 418.1,402.5 421.8,404 424.8,404.8 427.4,405.2 427.9,408.6 425.6,409.8 422.6,408.3 419.6,407.8 417.8,406.7zM412.3,412.3 415.1,411.3 415.8,414.6 414.8,418.3 412,419.1 411.3,416.1zM416.6,407.8 417.8,410.8 419.6,413.1 421.1,416.1 422.6,418.3 424.1,420.6 425.6,422.9 426.8,425.1 426.4,427.4 428.6,428.1 430.9,426.9 432.4,423.6 433.4,425.9 436.1,426.6 436.9,428.9 439.9,427.8 442.9,427.4 445.9,426.9 448.9,426.3 452,426.9 455,426.6 458,427.4 461,426.6 463,424.8 464.8,426.6 466.3,428.4 468.5,427.4 470.8,428.9 473,430.4 476.1,431.1 478.3,431.9 481.3,432.7 484.3,433.9 483.6,436 481.3,436.4 478.3,437.2 476.1,438.4 477.6,440.2 475.3,440.9M436.9,428.9 434.9,431.1 434.3,433.4 437.7,433.4 441.4,432.7 444,430.4 445.2,428.9 448.2,428.4 452,430.4 455.7,432.3 460.2,433.4 464.8,434.5 468.5,435.7 471.5,437.2 474.5,439.4 475.3,440.9M434.3,433.4 433.1,436.4 430.9,439.4 427.9,441.7 426.4,443.9 428.6,445.5 431.6,447 433.4,450 436.1,452.2 438.9,454.5 441,456.7 442.2,459.8 441.4,462.8 439.9,465 439.5,468 440.4,471.1 441.4,474.1 442.9,477.1 442.5,480.1 444.4,482.3 445.2,480.1 447,481.6 448.5,479.3 448.2,476.3 448.9,473.3 450.5,471.8 453.5,471.5 455.7,473.3 457.2,476.3 459.5,479.3 461,482.3 461.7,485.4 462,488.4M464,488.4 464.8,484.6 466.3,482.3 468.5,479.6 471.5,478.6 473.8,479.3 475.3,482.3 476.8,485.4 478.6,488.4M482.1,488.4 481.3,483.9 480.6,480.1 479.1,476.3 478.3,472.6 476.8,468.8 475.3,465 473.8,461.3 472.3,457.5 471.1,454.5 472.3,452.5 475.3,453.4 478.3,454.5 481.3,456 480.6,458.3 482.1,461.3 484.3,459.8 486.6,458.3 489.6,456.7 492.2,455.2 490.4,453 488.1,451.5 485.8,450 483.6,447.7 482.1,445.5 479.8,443.9 478.3,442M488.9,461.3 491.1,460.5 493.4,459.8M406,428.9 408.3,427.4 410.5,423.6 412.8,422.4 415.1,424.4 416.3,427.4 415.1,429.6 416.6,431.9 418.4,433.9 417.8,436 415.1,436.4 412,435.7 409.8,433.9 408.3,431.9 406.8,432.7 404.8,431.9zM413.3,423.6 414.8,425.1 415.1,428.1 413.6,427.4zM412.8,442.9 415.1,441.4 417.3,443.2 419.6,445.5 422.6,447.7 421.1,448.9 418.8,450 416.6,448.9 414.8,446.2zM513.7,453 516,450 517.5,451 516,454 514.2,454.5zM516.7,457.5 519,456.4 519.7,459 518.2,461.3 516.7,460.1zM517.5,466.5 520.5,465M516,480.8 520.5,480.5 520.5,483.1 516,483.1zM502.3,398.8 504.5,396.5 505.3,399.5 503,401.3zM518.8,407.8 520.3,406.3 523.3,409.3 525.6,412.3 523.3,413.4 520.3,410.8zM525.6,440.2 527.9,439 530.1,440.9 531.9,443.9 533.9,447 536.1,450 539.5,451.5 540.7,453.4 538.4,454.5 535.4,453.4 533.4,451 531.3,448 529.4,445.5 527.1,443.5zM542.2,456.4 544.4,455.2 546.4,456.4 544.4,458.3 542.6,458zM530.1,456.7 531.9,456 532.4,459 530.6,459.5zM517.3,466.5 519.6,465.5 520.3,467.3 518.4,468.5zM524.8,471.1 526.8,470.3 527.9,473 525.9,474.1zM534.9,472.1 537.7,469.5 540.7,467.3 542.2,468.8 539.9,471.1 537.7,472.6zM544.4,468 546.7,465.8 549.4,466.1 550.5,468.8 549.7,471.8 547.9,474.1 545.5,473.3 544,471.1zM555.7,467.3 556.9,468.5M545.9,477.5 547.4,476.3M554.5,478.6 557.2,477.1 560.2,475.6 563,474.5 562,476.3 559.5,477.5 556.9,479zM540.7,480.8 542.9,479.3 544.9,481.1 543.7,483.1 541.4,482.7zM518.1,480.5 521.1,479.3 522.3,477.5 520.8,480.8M529.4,483.9 531.6,485.4 533.1,484.2M535.4,483.9 538.4,481.6M568.5,486.1 570.8,485.1 573.8,485.4 572.3,487.2 569.3,487.2zM548.5,418.3 550.5,419.1 550.5,421.8zM556.9,419.8 560.2,419.1 564,419.4 565.5,422.1 565.5,426.6 564.8,430.4 562.5,432.7 559.5,432.3 557.5,430.4 559.5,428.9 561.4,426.6 560.2,423.6 558,422.1zM587.5,413.2 584.3,413.8 582.1,414.6 582.5,417.6 584.3,420.6 586.6,422.9 589.2,423.6 592.2,423.9 591.6,425.9 588.1,425.9 585.1,426.6 582.5,427.4 581.3,425.1 579.8,422.1 578.3,419.1 576.1,417.3 573.5,416.8 572,419.1 572.3,422.9 573.8,425.1 572,426.9 569.6,428.9 568.5,430.4 570.8,431.1 573.8,432.7 576.1,434.5 578.3,434.9 580.6,432.7 582.5,431.9 583.6,434.9 585.8,436 588.9,437.2 591.9,438.4 594.9,439.4 596.4,441.7 596.1,445.5 594.6,447.7 592.2,448.9 590.4,447 588.1,445.9 584.3,445.5 580.6,445.9 578,447 578.3,448.9 581.3,449.5 584.3,450.7 587.3,450.4 590.4,450 592.6,451.5 593.4,454 595.2,456.7 594.6,459.8 597.1,461.3 599.4,459.5 601.2,460.5 603.2,462.8 605.1,464.6 603.9,467 600.9,467.6 598.6,468.8 596.4,471.1 597.1,473 600.9,472.1 605.4,471.8 611.4,472.1 617.5,471.8 620.5,471.5M560.2,453.4 563.3,451.9 567,450.7 570.8,449.2 571.5,450.4 568.5,452.2 564.8,454.5 561.4,455.2zM585.8,469.5 588.1,471.1 589.6,472.6 588.6,474.5 587,473zM586.6,480.5 588.9,478.6 591.9,477.1 595.6,475.6 598.6,476 596.4,478.1 592.6,480.1 589.6,481.6 587.3,482.7zM599.4,482 602.4,480.5 606.2,479.6 609.9,479.3 614.5,478.6 620.5,478.6M599.4,482 602.4,483.6 606.2,483.1 608.4,481.6M611.4,485.4 613.7,484.2 614.5,486.6 612.2,487.2zM620.5,471.5 623.3,470.6 625.9,471.9 623.3,474.3 619.8,475.4 616.3,476.1 611.9,477.1 607.5,478.9 603.1,479.6 599.6,482 602.3,483.8 606.6,482.9 608.4,480.6 611.9,478.9 615.4,479.4 618,477.6 620.6,479.4 618.9,482 616.3,482.9 618,485.2 615.4,486.9 611.9,487.3 611,485.2 613.6,483.8M620.6,479.4 623.3,477.6 625.9,478.5 628.5,476.8 631.1,478.2 633.8,481.1 637.3,482.9 639.9,484.6 641.6,481.1 644.3,480.6 646.4,482.9 645.1,485.5 646.9,488.1 647.8,491.6 649.5,494.3 653,496.4 657.4,497.8 661.8,499.5 664.4,500.4 667.9,498.6 671.4,497.4 674.9,496 677.5,495.1 681,495.7 683.6,496.4 684.5,496.4 685.4,492.5 686.3,488.1 687.1,483.8 688,480.3 689.8,476.8 691.5,475 693.3,477.1 698.5,477.1 703.8,477.6 709,479.4 714.3,482 719.5,484.6 726.5,486.6M618,491.6 622.4,490.4 623.6,492.5 621.5,496.9 618.9,501.3 615.4,505.1 611.9,508.3 609.3,507.4 609.6,503.9 608.4,500.4 611,496.9 614.5,493.9zM597,489.9 599.6,490.8 601.4,492.5 598.8,492.2zM593.5,511.4 595.3,511.8 594.9,515.3 594.4,519.6 593.9,524 592.6,524.9 591.8,520.5 592.1,516.1zM528,538.4 525,536 521,534.4 516,533 510,532 504,531 498,530 493.6,529 493,524 493.6,519 495,517 497,520 498.4,516.4 501,519 504,520 507,521 509,519 512,520 513,523 515,525.6 519,526 523,524.4 527,523.6 531,524.4 534,525 537,526.4 542,527 548,527.6 554,527.6 556,530 554.4,533.6 558,534 561,532 564,530 567,531 569,529 570.4,532 569.6,538.4M553.6,538.4 554,533.6M511.2,520 510.8,521.2 509.6,521.6 508.4,521.2 508,520 508.4,518.8 509.6,518.4 510.8,518.8zM476,493 478.4,492 480.4,495 481,498 479,500.4 476.4,499.6 475.6,496zM486.4,508.4 487.6,511M478.6,488.4 481.6,490 484.4,490.2 482,488.4M515.6,481 518,479.6 521,478.4 522.4,481 520,483.6 516.4,483.6zM529.6,483.6 532,485M537,482 540,480.4 543,479 544.4,481.6 542,483.6 540,482zM545,470 547,473 549,471.6M544,490 545.6,489 546.4,492 547,494 544.4,493.6zM554,492.4 556.4,491.6 556.4,493.6zM585.6,525 588,524 589.6,524.4 587.6,526zM34.7,476.5 37,475.5 39.9,473.9 42.2,469.9 46.4,469.2 51.1,470.4 55.3,472.3 58.6,473.2 59.3,476.2 62.8,477 67.5,475.5 72.2,474.6 76.9,475.1 82.1,474.6 86.3,473.2 90.5,470.4 92.9,466.9 96.9,464.5 101.6,463.3 106.2,462.2 110.9,460.5 114,462.2 118,463.3 121.5,463.8 125.7,464.5 126.7,467.6 123.8,466.9 125,470.4 126.7,473.9 125,477.4 128.1,479.3 130.9,481.6 134.4,478.6 136.7,476.2 140.3,474.6 143.8,471.6 147.3,469.2 149.2,470.4 149.6,475.1 148.5,478.6 146.1,482.1 143.8,485.6 141.4,489.1 136.7,490.3 133.2,492.7 132.1,497.4 132.8,503.2 135.1,507.9 138.4,512.1 142.1,514.5 146.1,516.1 147.3,520.8 148.5,525.5 150.1,530.2 147.8,533.7 147.3,538.4M113.3,463.8 116.3,462.9 118,465.7 115.6,467.6 113.3,466.2zM82.1,474.6 81.1,478.6 76.9,479.8 75.7,483.3 71.1,485.6 68.7,488.7 73.4,489.6 74.1,493.8 72.7,500.9 71.8,507.9 72.7,515 73.4,522 72.7,527.9 76.5,530.2 74.6,533.7 72.2,538.4M172.4,477.9 175,477 176.6,479.3 174.3,480.9zM182.5,440.4 184.4,441.8M274.4,430.1 270.4,430.5 266.4,431.7 262.4,432.5 258.4,433.1 254.3,433.1 250.3,433.7 247.3,435.7 242.3,437.1 237.3,437.8 232.2,437.8 227.2,438.2 222.6,439.2 219.2,438.2 216.6,435.7 213.8,434.1 210.6,431.7 207.8,433.1 205.1,432.5 203.1,435.1 200.1,437.8 197.7,436.5 195.7,433.7 193.7,434.5 191.1,436.5 188.5,437.8 187.1,441.2 186.5,445.8 188.1,449.2 191.1,451.8 194.1,453.2 198.1,453.2 202.1,454.2 206.1,456.2 209.2,458.6 212.6,461.2 216.6,463.3 220.6,465.3 224.6,467.3 228.2,468.7 232.2,468.3 235.9,469.3 239.3,471.3 241.3,474.7 243.3,478.3 247.3,480.3 251.3,481.3 255.3,481.9 259.4,482.3 261.4,482.7 260.8,479.3 261.4,475.9 264.4,473.3 266.4,470.7 264.4,467.3 264,463.9 261.4,462.2 260.4,458.2 260.8,453.8 262,449.2 264,445.2 266.4,441.8 268.8,438.2 271.4,434.5zM290.5,414.1 290.1,413.7 286.5,415.1 282.4,416.1 280.4,419.1 282.4,423.1 281.4,427.1 278.4,429.7 274.4,430.1 274,434.1 275.4,438.2 277.4,441.2 282.4,441.8 287.5,441.2 289.5,437.1 291.5,432.1 294.5,428.5 298.5,427.1 301.5,425.1 300.9,420.1 300.5,415.7M251.3,419.7 253.3,420.5 255.3,422.5 256.7,425.1 255.3,426.1M262.8,413.7 264.4,412.4M182,441.2 184.1,441.8 183.1,440.2zM234.3,503.4 237.3,502.8 238.3,504.4 235.9,504.8zM239.3,506.4 242.3,508 245.3,508.4 245.9,510.8 243.3,511.4 240.3,510.4zM475.6,351.5 473.6,352.6 471.5,354.1 469.5,355.1 467.5,356.1 467.2,358.6 469,360.1 469.5,361.6 468,362.6 467,364.6 466.2,367.1 466.5,369.6 467.5,372.1 469.5,374.1 471,376.1 473.1,378.2 474.6,380.2 475.1,382.7 476.6,385.2 478.1,387.7 480.6,388.7 482.6,391.2 484.6,393.7 486.6,395.7 487.1,398.2M475.6,351.5 477.6,352.6 477.6,355.1 475.1,355.6 474.6,358.1 476.1,359.6 478.6,360.6 481.1,362.1 484.1,363.9 487.1,365.1 488.6,364.1 490.1,363.3 493.1,364.1 496.1,365.1 498.2,365.9M488.6,364.1 487.6,366.6 487.6,369.6 489.1,371.6 488.6,374.1 491.1,373.6 494.6,375.1 497.7,374.6 498.7,373.6 496.1,372.6 493.6,372.1 491.6,370.1 489.6,368.1 488.6,366.1M498.2,365.9 497.7,363.6 498.2,361.9 500.2,361.1 502.2,360.6M498.2,365.9 499.7,367.1 500.2,369.1 501.7,370.6 502.7,372.6 504.7,374.1 506.2,372.1 506,369.6 505.7,367.6 503.7,367.1 501.2,366.3 499.7,365.6M502.2,355.1 504.2,356.6 507.2,359.6 510.2,362.1 513.2,365.1 516.2,367.6 517.7,367.6 515.7,368.6 514.2,368.1 511.2,365.1 508.2,362.6 505.7,360.6 503.7,359.6 502.2,358.6 501.7,356.6zM502.2,360.6 503.2,359.6M502.2,355.1 500.2,352.6 498.2,350.5 497.1,348.5 498.7,347 501.2,346.2 503.7,346.8 506.2,348.2 509.2,348.2 512.2,347 514.7,345 515.7,342.5 517.7,341.5 520.2,341.2 522.8,341.8 523.8,344 526.3,344.5 528.8,344 530.8,342.5 533.3,341 534.8,340M527.9,349.8 526.8,352.6 524.1,353.7 521.3,352.6 520.2,349.8 521.3,347.1 524.1,346 526.8,347.1zM487.1,396.8 487.6,399.5 489.6,400.5 491.6,398.8 492.6,399.5 490.6,400.8M473.6,397.2 475.1,395.5 477.6,393.5 479.6,394.8 482.6,395.8 483.9,398 484.9,400 482.9,401.2 480.6,402 479.1,403.6 478.1,405.6 477.1,404.1 477.9,401.8 476.1,400.8 474.6,399zM484.9,400 487.6,400M494.6,398.2 496.1,400 497.7,402 499.7,402.6 500.2,400.8 502.2,400.5 504.2,399 504.7,396.5 503.2,397.5 502.2,399.5 499.7,400 497.7,400.5 496.1,399zM478.1,406.1 480.1,405.1 483.1,405.1 486.6,404.9 489.1,405.6 490.1,408.1 491.6,410.1 493.6,412.1 495.1,413.3 498.2,413.6 500.2,416.3 504.2,416.6 508.7,416.6 510.2,418.6 511.7,421.6 512.2,425.1 512.7,428.2 513.7,431.2 514.7,433.2 517.7,433.4 521.2,433.7 522.4,435.2 522.2,437.7 520.7,439.7 518.2,439.2 515.7,438.7 514.2,436.7 512.2,435.2 510.7,433.7 511.2,431.7 509.7,430.7 508.2,428.7 506.7,427.1 505.7,425.6 504.2,425.9 502.2,425.6 500.2,425.3 497.7,425.6 496.1,425.1 495.1,423.1 494.6,421.9 493.1,420.1 491.1,418.6 489.1,416.9 487.1,415.1 485.1,413.1 483.6,411.1 480.1,410.3 477.6,410.1 476.1,411.1 474.1,410.6 474.6,408.9 476.6,408.6zM466,410.1 468,408.6 470,410.6 467.5,411.6zM470,410.6 472,412.6 475.1,413.6 478.1,414.1 480.1,415.6 482.1,417.6 484.1,416.6 486.6,417.6 488.1,418.6 486.6,420.1 488.1,422.1 491.1,422.3 494.6,422.3 495.1,424.6 496.6,426.6 499.2,427.7 502.2,428.7 504.7,429.7 506.7,431.2 508.2,432.7 508.7,434.2 506.7,434.7 506.4,437.7 506.7,441.2 507.2,444.2 508,446.7 507.2,450.2 505.7,450.7 504.2,448.7 502.7,446.2 501.2,444.7 499.7,442.7 498.2,440.7 496.1,440.2 494.1,439.7 491.1,439.2 488.1,439.2 485.1,439.7 482.6,440.2 480.1,441.2 478.6,442.7M490.1,439.2 491.6,437.7 493.6,437.4 494.6,438.7 493.6,440.2 492.6,442.2 490.6,442.7 489.9,441.2zM490.6,447.2 492.6,446.4 493.6,447.7 492.3,449.2 490.9,448.7zM570.6,335 570.9,337.5 571.6,339.5 570.1,341 568.1,343 566,345 564,347 562.5,348.1M555,344.5 558,344.5 561,344.8 562.5,346 562.5,348.1M562.5,348.1 562.8,350.6 564,352.1 567,352.3 571.1,352.3 575.1,352.1 578.1,351.6 581.1,351.1 583.1,350.9 584.3,352.3 584.6,353.9 582.6,354.3 580.1,355.1 577.6,355.6 575.1,356.9 572.6,358.3 570.1,359.9 567.9,361.6 568.1,363.6 567.9,366.1 567,368.6 566.2,370.3 568.6,370.1 570.1,368.6 571.6,367.1 572.3,365.6 574.1,364.1 576.1,362.6 577.9,361.3 578.9,359.6 580.1,357.9 581.3,356.3 583.1,355.6 585.1,354.6 587.1,354.1 589.6,352.9M584.6,353.9 587.1,354.1M565.5,372.7 567.6,372.3 569.9,372.1 571.1,370.6 572.1,368.6 573.6,366.9 575.1,365.1 576.6,363.6 578.1,362.3 579.6,360.6 581.1,359.6 584.1,359.6 587.1,360.1 589.1,359.1 591.1,357.6 593.7,357.3 596.7,357.6 597.7,359.6 599.2,361.1 600.4,361.9M572.1,367.1 573.6,365.1 575.6,363.6 576.6,362.6 575.1,364.3 573.6,366.1zM565.5,372.7 565.2,376.2 565.2,380.2 565,384.2 564.2,387.2 563.5,389.7 566,390.4 569.1,389.7 571.1,390.4 573.1,389 576.1,388.2 580.1,387.7 584.1,387 587.1,386.4 587.6,388.2 586.1,390 584.1,391.7 582.1,393.7 580.1,395.2 578.6,396.4M555,365.6 558,365.3 560.5,365.9 561.5,367.3 560,368.6 557.5,369.1 555,369.6M647.2,331.3 646.5,332.5 645,335.5 643.5,337.7 642,339.7 638.2,340.3 633.7,340 631.5,337.7 627.7,337.3 622.5,337 618,338.2 616.5,339.7 612,339.7 607.5,339.2 603,339.7 601.8,341.8 600.7,344.5 598.5,346.7 595.5,349.3 592.5,351.2 589.6,352.9M643.5,337.7 645,339.2 647.2,341.5 649.5,343.7 652.5,346 655.5,347.5 660,347.5 666,347.2 670.2,347.8 663,348.1 657,349 652.5,350.2 648,351.2 643.5,352 640.5,353.2 638.7,355 640.5,356.8 643.5,357.2 646.5,356.8 648,358.7 645,359.8 640.5,359.8 636,360.7 631.5,360.2 625.5,359.5 619.5,359.8 615,360.2 610.5,362.2 606,362.5 601.5,361.7M666,347.3 670.2,347.3 670.2,348.1 666,347.8zM608.7,356.5 612,355.3 615.7,356.2 617.2,357.7 614.2,359.2 610.8,359.8 608.7,358.3zM603.3,351.7 605.7,350.5 609.3,351.7 607.5,353.2 604.2,353.2zM334.6,279.1 337.1,281.3 340.1,283.1 343.1,284.9 345.6,285.6 347.1,287.6 349.7,289.1 352.2,290.6 354.7,292.7M378.3,297 378.3,299.2 378.5,303.2 378.1,307.2 377.8,310"/></g>
<rect x="36.1" y="74.0" width="691.3" height="464.0" fill="none" stroke="#000" stroke-width="2"/>
<text class="ax" transform="translate(29.6,542.9) scale(.86,1)" text-anchor="end">35N</text>
<text class="ax" transform="translate(29.6,509.7) scale(.86,1)" text-anchor="end">36N</text>
<text class="ax" transform="translate(29.6,476.5) scale(.86,1)" text-anchor="end">37N</text>
<text class="ax" transform="translate(29.6,443.4) scale(.86,1)" text-anchor="end">38N</text>
<text class="ax" transform="translate(29.6,410.2) scale(.86,1)" text-anchor="end">39N</text>
<text class="ax" transform="translate(29.6,377.0) scale(.86,1)" text-anchor="end">40N</text>
<text class="ax" transform="translate(29.6,343.9) scale(.86,1)" text-anchor="end">41N</text>
<text class="ax" transform="translate(29.6,310.7) scale(.86,1)" text-anchor="end">42N</text>
<text class="ax" transform="translate(29.6,277.5) scale(.86,1)" text-anchor="end">43N</text>
<text class="ax" transform="translate(29.6,244.4) scale(.86,1)" text-anchor="end">44N</text>
<text class="ax" transform="translate(29.6,211.2) scale(.86,1)" text-anchor="end">45N</text>
<text class="ax" transform="translate(29.6,178.0) scale(.86,1)" text-anchor="end">46N</text>
<text class="ax" transform="translate(29.6,144.8) scale(.86,1)" text-anchor="end">47N</text>
<text class="ax" transform="translate(29.6,111.7) scale(.86,1)" text-anchor="end">48N</text>
<text class="ax" transform="translate(29.6,78.5) scale(.86,1)" text-anchor="end">49N</text>
<text class="ax" transform="translate(64.0,552.2) scale(.86,1)" text-anchor="middle">8E</text>
<text class="ax" transform="translate(119.3,552.2) scale(.86,1)" text-anchor="middle">10E</text>
<text class="ax" transform="translate(174.6,552.2) scale(.86,1)" text-anchor="middle">12E</text>
<text class="ax" transform="translate(229.9,552.2) scale(.86,1)" text-anchor="middle">14E</text>
<text class="ax" transform="translate(285.1,552.2) scale(.86,1)" text-anchor="middle">16E</text>
<text class="ax" transform="translate(340.4,552.2) scale(.86,1)" text-anchor="middle">18E</text>
<text class="ax" transform="translate(395.7,552.2) scale(.86,1)" text-anchor="middle">20E</text>
<text class="ax" transform="translate(450.9,552.2) scale(.86,1)" text-anchor="middle">22E</text>
<text class="ax" transform="translate(506.2,552.2) scale(.86,1)" text-anchor="middle">24E</text>
<text class="ax" transform="translate(561.5,552.2) scale(.86,1)" text-anchor="middle">26E</text>
<text class="ax" transform="translate(616.8,552.2) scale(.86,1)" text-anchor="middle">28E</text>
<text class="ax" transform="translate(672.0,552.2) scale(.86,1)" text-anchor="middle">30E</text>
<text class="ax" transform="translate(727.3,552.2) scale(.86,1)" text-anchor="middle">32E</text>
<path d="M32.9 538.9H36.1M32.9 505.7H36.1M32.9 472.5H36.1M32.9 439.4H36.1M32.9 406.2H36.1M32.9 373.0H36.1M32.9 339.9H36.1M32.9 306.7H36.1M32.9 273.5H36.1M32.9 240.4H36.1M32.9 207.2H36.1M32.9 174.0H36.1M32.9 140.8H36.1M32.9 107.7H36.1M32.9 74.5H36.1M64.0 538.0V541.8M119.3 538.0V541.8M174.6 538.0V541.8M229.9 538.0V541.8M285.1 538.0V541.8M340.4 538.0V541.8M395.7 538.0V541.8M450.9 538.0V541.8M506.2 538.0V541.8M561.5 538.0V541.8M616.8 538.0V541.8M672.0 538.0V541.8M727.3 538.0V541.8" stroke="#000" stroke-width="1.2" fill="none"/>
<text class="t" transform="translate(0,21.5) scale(1.08,1)" text-anchor="middle" x="65.1 75.4 86.1 96.9 106.8 116.2 125.6 132.2 139.1 148.9 159.5 168.3 178.1 189.6">NMMB_v1.0_10km</text>
<text class="t" transform="translate(0,44.0) scale(1.1,1)" text-anchor="middle" x="33.2 41.8 60.5 70.5 79.2 84 90.9 100.7 110 119.3 135.5 143.8 155.1 167.1 177.8 187.3 194.1">3hAcc.Snow[cm/3h]</text>
<text class="t" transform="translate(0,21.5) scale(1.2,1)" text-anchor="middle" x="361.2 367 373.8 377.5 381.7 387.7 393.8 397.2 402.7 411.2 417.8 421.7 427.7 436.7 444.2 457.5 466.4 475 483.5 489.5 496 504.8 511.7 517.2 525 532.8 555 564 570.8 576.9 585.7 601.7 610 617.9">initialisation:2024.09.12.00:00UTC</text>
<text class="t" transform="translate(0,44.0) scale(1.2,1)" text-anchor="middle" x="360.8 368.8 375 378.3 383.6 391.2 400 409.2 417.7 426.1 433.1 439.2 452.8 461.4 470 478.6 485 491.3 499.8 508.3 514.7 520.3 528.9 545.3 554.2 560.8 567.3 576.1 592.5 600.8 609.2">valid(+05h):2024.SEP.1205:00UTC</text>
<text class="ft" x="4.5" y="616.1" textLength="29.5" lengthAdjust="spacingAndGlyphs" xml:space="preserve">GrADS:</text>
<text class="ft" x="40.5" y="616.1" textLength="49.5" lengthAdjust="spacingAndGlyphs" xml:space="preserve">COLA/IGES</text>
<text class="ft" x="684" y="616.1" textLength="94" lengthAdjust="spacingAndGlyphs" xml:space="preserve">2024-09-12-07:26</text>
</svg></body></html>
